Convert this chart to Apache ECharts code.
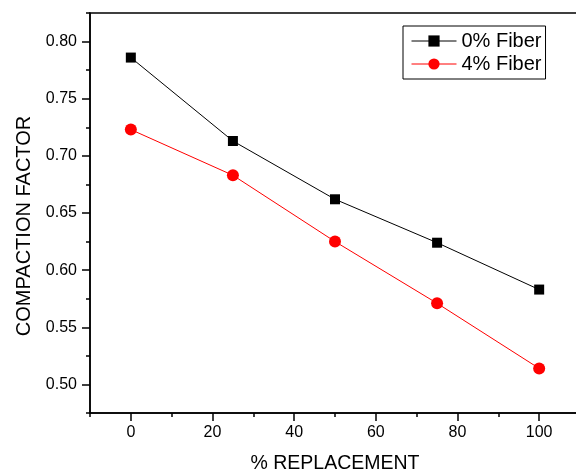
<!DOCTYPE html>
<html>
<head>
<meta charset="utf-8">
<script src="https://cdn.jsdelivr.net/npm/echarts@6/dist/echarts.min.js"></script>
<style>
  html, body { margin: 0; padding: 0; background: #fff; }
  #chart { width: 576px; height: 473px; }
</style>
</head>
<body>
<div id="chart"></div>
<script>
// % replacement
var replacement = [0, 25, 50, 75, 100];
// compaction factor
var fiber0 = [0.786, 0.713, 0.662, 0.624, 0.583];
var fiber4 = [0.723, 0.683, 0.625, 0.571, 0.514];
var seriesNames = ['0% Fiber', '4% Fiber'];
// labelled ticks
var xTicks = [0, 20, 40, 60, 80, 100];
var yTicks = [0.50, 0.55, 0.60, 0.65, 0.70, 0.75, 0.80];

function pairs(xs, ys) {
    return xs.map(function (x, i) { return [x, ys[i]]; });
}

var font = 'Liberation Sans, Arial, sans-serif';
var black = '#000';
var chart = echarts.init(document.getElementById('chart'), null, { renderer: 'canvas' });

var xMin = -10, xMax = 110, yMin = 0.475, yMax = 0.825;

var option = {
    animation: false,
    backgroundColor: '#fff',
    grid: {
        left: 90, top: 13, right: -4, bottom: 60,
        outerBoundsMode: 'none',
        containLabel: false,
        show: true, borderColor: black, borderWidth: 1.5
    },
    legend: {
        orient: 'vertical',
        left: 403,
        top: 26,
        padding: [5, 4, 5, 8],
        itemGap: 3,
        itemWidth: 45,
        itemHeight: 14,
        borderColor: black,
        borderWidth: 1,
        borderRadius: 0,
        lineStyle: { width: 1 },
        textStyle: { fontFamily: font, fontSize: 20, color: black },
        data: seriesNames
    },
    xAxis: [{
        // labelled (major) ticks
        type: 'value',
        min: xMin,
        max: xMax,
        name: '% REPLACEMENT',
        nameLocation: 'middle',
        nameGap: 41,
        nameTextStyle: { fontFamily: font, fontSize: 19.5, color: black },
        axisLine: { show: true, onZero: false, lineStyle: { color: black, width: 1.5 } },
        axisTick: { show: true, length: 8, customValues: xTicks, lineStyle: { color: black, width: 1.5 } },
        splitLine: { show: false },
        axisLabel: {
            fontFamily: font, fontSize: 16, color: black, margin: 12,
            customValues: xTicks
        }
    }, {
        // minor ticks every 10
        type: 'value',
        position: 'bottom',
        min: xMin,
        max: xMax,
        interval: 10,
        axisLine: { show: false, onZero: false },
        axisTick: { show: true, length: 4, lineStyle: { color: black, width: 1.5 } },
        axisLabel: { show: false },
        splitLine: { show: false }
    }],
    yAxis: [{
        type: 'value',
        min: yMin,
        max: yMax,
        name: 'COMPACTION FACTOR',
        nameLocation: 'middle',
        nameGap: 54,
        nameTextStyle: { fontFamily: font, fontSize: 20, color: black, padding: [0, 26, 0, 0] },
        axisLine: { show: true, onZero: false, lineStyle: { color: black, width: 1.5 } },
        axisTick: { show: true, length: 8, customValues: yTicks, lineStyle: { color: black, width: 1.5 } },
        splitLine: { show: false },
        axisLabel: {
            fontFamily: font, fontSize: 16, color: black, margin: 13,
            customValues: yTicks,
            formatter: function (v) { return v.toFixed(2); }
        }
    }, {
        // minor ticks every 0.025
        type: 'value',
        position: 'left',
        min: yMin,
        max: yMax,
        interval: 0.025,
        axisLine: { show: false, onZero: false },
        axisTick: { show: true, length: 4, lineStyle: { color: black, width: 1.5 } },
        axisLabel: { show: false },
        splitLine: { show: false }
    }],
    series: [{
        name: seriesNames[0],
        type: 'line',
        data: pairs(replacement, fiber0),
        symbol: 'rect',
        symbolSize: 10,
        color: black,
        lineStyle: { color: black, width: 1 },
        itemStyle: { color: black }
    }, {
        name: seriesNames[1],
        type: 'line',
        data: pairs(replacement, fiber4),
        symbol: 'circle',
        symbolSize: 12,
        color: '#ff0000',
        lineStyle: { color: '#ff0000', width: 1 },
        itemStyle: { color: '#ff0000' }
    }]
};

chart.setOption(option);
</script>
</body>
</html>
